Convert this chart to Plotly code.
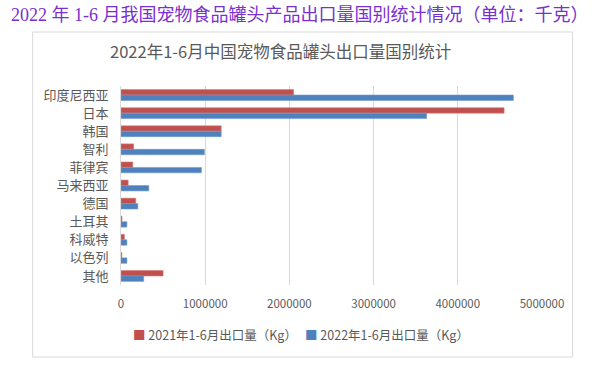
import plotly.graph_objects as go

categories = ["印度尼西亚", "日本", "韩国", "智利", "菲律宾", "马来西亚", "德国", "土耳其", "科威特", "以色列", "其他"]
values_2021 = [2050000, 4550000, 1190000, 150000, 140000, 85000, 175000, 12000, 40000, 10000, 500000]
values_2022 = [4660000, 3630000, 1190000, 990000, 955000, 330000, 200000, 70000, 70000, 70000, 270000]
x_ticks = [0, 1000000, 2000000, 3000000, 4000000, 5000000]
series_names = ["2021年1-6月出口量（Kg）", "2022年1-6月出口量（Kg）"]

RED = "#C0504D"
BLUE = "#4F81BD"
GRAY = "#595959"
FONT = "Noto Sans CJK SC"

# plot area in pixels
L, R, T, B = 120.5, 542.3, 86, 285
W, H = 600, 365
def px(x):
    return (x - L) / (R - L)
def py(y):
    return (B - y) / (B - T)

fig = go.Figure()
fig.add_trace(go.Bar(
    y=categories, x=values_2021, orientation="h", name=series_names[0],
    marker=dict(color=RED, line=dict(color="#D77A77", width=0.6)),
))
fig.add_trace(go.Bar(
    y=categories, x=values_2022, orientation="h", name=series_names[1],
    marker=dict(color=BLUE, line=dict(color="#6F9AD0", width=0.6)),
))

fig.update_layout(
    width=W, height=H,
    margin=dict(l=L, r=W - R, t=T, b=H - B, autoexpand=False),
    paper_bgcolor="white", plot_bgcolor="white",
    barmode="group", bargap=0.4, bargroupgap=0.0,
    font=dict(family=FONT, color=GRAY),
    showlegend=False,
    xaxis=dict(range=[0, 5000000], tickvals=x_ticks, ticktext=[str(v) for v in x_ticks],
               showgrid=True, gridcolor="#D9D9D9", gridwidth=1, zeroline=False,
               showline=False, ticks="", tickfont=dict(size=11.5, color=GRAY, family=FONT),
               ticklabelstandoff=10, fixedrange=True),
    yaxis=dict(autorange="reversed", showgrid=False, zeroline=False,
               showline=True, linecolor="#D9D9D9", linewidth=1,
               ticks="", tickfont=dict(size=13, color=GRAY, family=FONT),
               ticklabelstandoff=9, fixedrange=True),
)

fig.add_shape(type="rect", xref="paper", yref="paper",
              x0=px(32), x1=px(573), y0=py(357), y1=py(32),
              line=dict(color="#D9D9D9", width=1), layer="below")

fig.add_annotation(text="2022 年 1-6 月我国宠物食品罐头产品出口量国别统计情况（单位：千克）",
                   xref="paper", yref="paper", x=px(300), y=py(15),
                   xanchor="center", yanchor="middle", showarrow=False,
                   font=dict(family="Liberation Serif, " + FONT, size=18, color="#7A2FD0"))
fig.add_annotation(text="2022年1-6月中国宠物食品罐头出口量国别统计",
                   xref="paper", yref="paper", x=px(280), y=py(51),
                   xanchor="center", yanchor="middle", showarrow=False,
                   font=dict(family=FONT, size=16.5, color=GRAY))

# legend drawn as text entries
legend_x = [131, 303]
legend_colors = [RED, BLUE]
for name, color, lx in zip(series_names, legend_colors, legend_x):
    fig.add_annotation(text=f'<span style="color:{color}">■</span> {name}',
                       xref="paper", yref="paper", x=px(lx), y=py(334),
                       xanchor="left", yanchor="middle", showarrow=False,
                       font=dict(family=FONT, size=12.5, color=GRAY))

fig.write_html("out.html", config={"displayModeBar": False})
with open("out.html", encoding="utf-8") as f:
    html = f.read()
html = html.replace("<body>", '<body style="margin:0">', 1)
with open("out.html", "w", encoding="utf-8") as f:
    f.write(html)
